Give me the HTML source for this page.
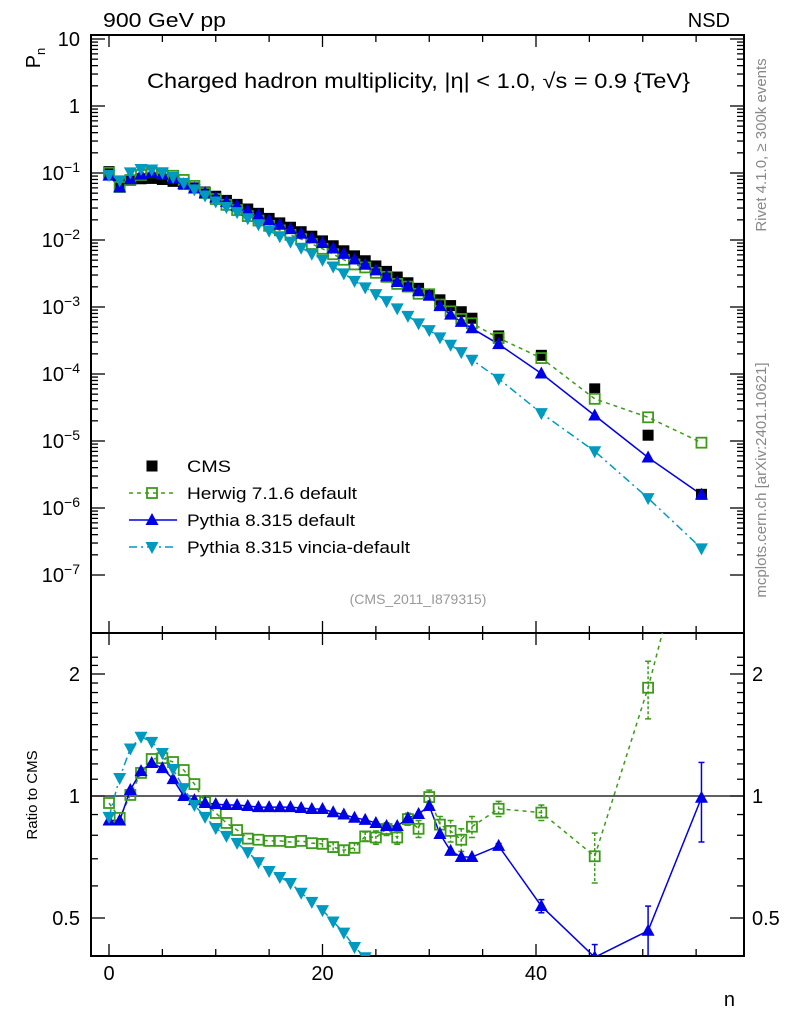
<!DOCTYPE html>
<html><head><meta charset="utf-8">
<style>
html,body{margin:0;padding:0;background:#fff;width:786px;height:1024px;overflow:hidden;}
svg{display:block;position:absolute;left:0;top:0;font-family:"Liberation Sans",sans-serif;}
</style></head>
<body>
<svg id="chart" width="786" height="1024" viewBox="0 0 786 1024">
<defs>
<clipPath id="clipTop"><rect x="91" y="35" width="653" height="598"/></clipPath>
<clipPath id="clipBot"><rect x="91" y="633" width="653" height="323"/></clipPath>
</defs>
<g id="frame"></g>
<g id="marks"></g>
<text x="103" y="27" font-size="20" textLength="123" lengthAdjust="spacingAndGlyphs">900 GeV pp</text>
<text x="730" y="27" font-size="20" text-anchor="end">NSD</text>
<text x="147" y="88" font-size="21" textLength="543" lengthAdjust="spacingAndGlyphs">Charged hadron multiplicity, |η| &lt; 1.0, √s = 0.9 {TeV}</text>
<text x="0" y="0" font-size="20" transform="translate(40,58) rotate(-90)" text-anchor="middle">P<tspan font-size="13" dy="5">n</tspan></text>
<text x="0" y="0" font-size="15" transform="translate(37,795) rotate(-90)" text-anchor="middle">Ratio to CMS</text>
<text x="735" y="1006" font-size="20" text-anchor="end">n</text>
<text x="0" y="0" font-size="15" fill="#888" transform="translate(766,145) rotate(-90)" text-anchor="middle">Rivet 4.1.0, ≥ 300k events</text>
<text x="0" y="0" font-size="15" fill="#888" transform="translate(766,480) rotate(-90)" text-anchor="middle">mcplots.cern.ch [arXiv:2401.10621]</text>
<text x="418" y="604" font-size="14" fill="#999" text-anchor="middle">(CMS_2011_I879315)</text>
<g id="legend"></g>
</svg>
<script>
const nVals=[0,1,2,3,4,5,6,7,8,9,10,11,12,13,14,15,16,17,18,19,20,21,22,23,24,25,26,27,28,29,30,31,32,33,34,36.5,40.5,45.5,50.5,55.5];
const cmsVals=[0.105,0.07,0.078,0.082,0.083,0.08,0.075,0.068,0.06,0.052,0.045,0.039,0.034,0.029,0.025,0.021,0.018,0.0155,0.0133,0.0114,0.0097,0.0082,0.0069,0.0058,0.0049,0.0041,0.0034,0.0028,0.0023,0.0019,0.00156,0.00128,0.00105,0.00085,0.00068,0.00037,0.00019,0.00006,0.0000122,0.0000016];
const herwigRatio=[0.961,0.883,1.006,1.14,1.234,1.24,1.213,1.159,1.07,0.966,0.908,0.858,0.824,0.785,0.78,0.775,0.775,0.77,0.775,0.765,0.762,0.748,0.735,0.745,0.795,0.79,0.829,0.79,0.877,0.83,0.994,0.85,0.82,0.78,0.84,0.93,0.91,0.71,1.85,5.9];
const herwigErr=[0,0,0,0,0,0,0,0,0,0,0,0,0,0,0,0,0,0,0,0,0.02,0.02,0.02,0.02,0.02,0.03,0.03,0.03,0.03,0.04,0.04,0.04,0.05,0.05,0.05,0.04,0.04,0.1,0.3,0.5];
const pythiaRatio=[0.87,0.87,1.035,1.152,1.206,1.172,1.101,1.0,0.977,0.961,0.955,0.95,0.95,0.945,0.939,0.939,0.939,0.939,0.934,0.929,0.929,0.912,0.9,0.884,0.873,0.858,0.843,0.843,0.882,0.903,0.945,0.806,0.732,0.707,0.707,0.753,0.535,0.4,0.465,0.99];
const pythiaErr=[0,0,0,0,0,0,0,0,0,0,0,0,0,0,0,0,0,0,0,0,0,0,0,0,0,0,0,0,0,0,0,0,0,0,0,0.01,0.02,0.03,0.07,0.22];
const vinciaRatio=[0.888,1.108,1.31,1.4,1.36,1.277,1.166,1.046,0.95,0.888,0.834,0.797,0.766,0.727,0.687,0.653,0.631,0.61,0.577,0.548,0.523,0.49,0.46,0.424,0.4,0.38,0.36,0.34,0.32,0.3,0.29,0.275,0.26,0.25,0.24,0.23,0.137,0.117,0.115,0.156];
const xTicks=[0,20,40];
const yDecades=[-7,-6,-5,-4,-3,-2,-1,0,1];
const ratioTicks=[0.5,1,2];

const NS='http://www.w3.org/2000/svg';
const X0=91,X1=744,YT=35,YM=633,YB=956;
function xs(n){return 109+n*10.675;}
function ym(p){return 106-67*Math.log10(p);}
function yr(r){return 796-122*Math.log2(r);}
function el(tag,attrs,parent){const e=document.createElementNS(NS,tag);for(const k in attrs)e.setAttribute(k,attrs[k]);parent.appendChild(e);return e;}
const frame=document.getElementById('frame');
const marks=document.getElementById('marks');

let r1=el('rect',{x:X0,y:YT,width:X1-X0,height:YM-YT,fill:'none',stroke:'#000','stroke-width':2},frame);


let r2=el('rect',{x:X0,y:YM,width:X1-X0,height:YB-YM,fill:'none',stroke:'#000','stroke-width':2},frame);


let one=el('line',{x1:X0,x2:X1,y1:yr(1),y2:yr(1),stroke:'#000','stroke-width':1.3},frame);



for(let n=0;n<=60;n+=5){
  const x=xs(n); if(x>X1)break;
  const big=(n%20===0)?12:7;
  el('line',{x1:x,x2:x,y1:YB,y2:YB-big,stroke:'#000','stroke-width':1.3},frame);
  el('line',{x1:x,x2:x,y1:YM,y2:YM-big,stroke:'#000','stroke-width':1.3},frame);
  el('line',{x1:x,x2:x,y1:YT,y2:YT+big,stroke:'#000','stroke-width':1.3},frame);
  el('line',{x1:x,x2:x,y1:YM,y2:YM+big,stroke:'#000','stroke-width':1.3},frame);
}
xTicks.forEach(v=>{
  const t=el('text',{x:xs(v),y:980,'font-size':20,'text-anchor':'middle'},frame);
  t.textContent=v;
  
  
});
yDecades.forEach(d=>{
  for(let m=1;m<10;m++){
    const y=ym(m*Math.pow(10,d)); if(y<YT||y>YM)continue;
    const L=m===1?14:7;
    el('line',{x1:X0,x2:X0+L,y1:y,y2:y,stroke:'#000','stroke-width':1.3},frame);
    el('line',{x1:X1,x2:X1-L,y1:y,y2:y,stroke:'#000','stroke-width':1.3},frame);
  }
  const t=el('text',{x:80,y:ym(Math.pow(10,d))+7,'font-size':20,'text-anchor':'end'},frame);
  
  
  if(d===1)t.textContent='10';else if(d===0)t.textContent='1';
  else{t.textContent='10';const s=el('tspan',{dy:-8,'font-size':14},t);s.textContent=String(d).replace('-','−');}
});
for(let r=0.4;r<=2.3;r+=0.1){
  const y=yr(r); if(y<YM||y>YB)continue;
  const major=ratioTicks.some(v=>Math.abs(v-r)<1e-6);
  const L=major?14:7;
  el('line',{x1:X0,x2:X0+L,y1:y,y2:y,stroke:'#000','stroke-width':1.3},frame);
  el('line',{x1:X1,x2:X1-L,y1:y,y2:y,stroke:'#000','stroke-width':1.3},frame);
}
ratioTicks.forEach(v=>{
  const t=el('text',{x:80,y:yr(v)+7,'font-size':20,'text-anchor':'end'},frame);
  t.textContent=v;
  
  
  const t2=el('text',{x:752,y:yr(v)+7,'font-size':20},frame);
  t2.textContent=v;
  
  
});

function marker(type,x,y,color,parent){
  if(type==='sq'){return el('rect',{x:x-5.5,y:y-5.5,width:11,height:11,fill:color},parent);}
  if(type==='osq'){return el('rect',{x:x-5,y:y-5,width:10,height:10,fill:'#fff','fill-opacity':0,stroke:color,'stroke-width':1.8},parent);}
  if(type==='up'){return el('polygon',{points:`${x},${y-7} ${x-6.5},${y+5} ${x+6.5},${y+5}`,fill:color},parent);}
  return el('polygon',{points:`${x},${y+7} ${x-6.5},${y-5} ${x+6.5},${y-5}`,fill:color},parent);
}
const gTop=el('g',{'clip-path':'url(#clipTop)'},marks);
const gBot=el('g',{'clip-path':'url(#clipBot)'},marks);
const series=[
 {name:'herwig',ratio:herwigRatio,err:herwigErr,color:'#3d9a1a',dash:'4,4',mk:'osq'},
 {name:'pythia',ratio:pythiaRatio,err:pythiaErr,color:'#0000e6',dash:'',mk:'up'},
 {name:'vincia',ratio:vinciaRatio,err:null,color:'#0099bf',dash:'8,4,2,4',mk:'down'}
];
series.forEach(s=>{
  const topPts=nVals.map((n,i)=>[xs(n),ym(cmsVals[i]*s.ratio[i])]);
  const botPts=nVals.map((n,i)=>[xs(n),yr(s.ratio[i])]);
  const l1=el('polyline',{points:topPts.map(p=>p.join(',')).join(' '),fill:'none',stroke:s.color,'stroke-width':1.5,'stroke-dasharray':s.dash},gTop);
  
  
  const l2=el('polyline',{points:botPts.map(p=>p.join(',')).join(' '),fill:'none',stroke:s.color,'stroke-width':1.5,'stroke-dasharray':s.dash},gBot);
  
  
  nVals.forEach((n,i)=>{
    if(s.err&&s.err[i]>0){
      const r=s.ratio[i],e=s.err[i],x=xs(n);
      el('line',{x1:x,x2:x,y1:yr(r+e),y2:yr(Math.max(r-e,0.05)),stroke:s.color,'stroke-width':1.5,'stroke-dasharray':s.dash?'3,2':''},gBot);
      el('line',{x1:x-3,x2:x+3,y1:yr(r+e),y2:yr(r+e),stroke:s.color,'stroke-width':1.5},gBot);
      el('line',{x1:x-3,x2:x+3,y1:yr(r-e),y2:yr(r-e),stroke:s.color,'stroke-width':1.5},gBot);
    }
  });
});
nVals.forEach((n,i)=>{
  const m=marker('sq',xs(n),ym(cmsVals[i]),'#000',gTop);
  
  
});
series.forEach(s=>{
  nVals.forEach((n,i)=>{
    const m=marker(s.mk,xs(n),ym(cmsVals[i]*s.ratio[i]),s.color,gTop);
    
    
    const m2=marker(s.mk,xs(n),yr(s.ratio[i]),s.color,gBot);
    
    
  });
});

const leg=document.getElementById('legend');
const entries=[
 {label:'CMS',color:'#000',dash:null,mk:'sq',w:44},
 {label:'Herwig 7.1.6 default',color:'#3d9a1a',dash:'4,4',mk:'osq',w:170},
 {label:'Pythia 8.315 default',color:'#0000e6',dash:'',mk:'up',w:168},
 {label:'Pythia 8.315 vincia-default',color:'#0099bf',dash:'8,4,2,4',mk:'down',w:223}
];
entries.forEach((e,i)=>{
  const y=466+i*27;
  const g=el('g',{},leg);
  
  
  if(e.dash!==null)el('line',{x1:129,x2:177,y1:y,y2:y,stroke:e.color,'stroke-width':1.5,'stroke-dasharray':e.dash},g);
  marker(e.mk,152,y,e.color,g);
  const t=el('text',{x:187,y:y+6,'font-size':17,textLength:e.w,lengthAdjust:'spacingAndGlyphs'},g);
  t.textContent=e.label;
});
</script>
</body></html>
